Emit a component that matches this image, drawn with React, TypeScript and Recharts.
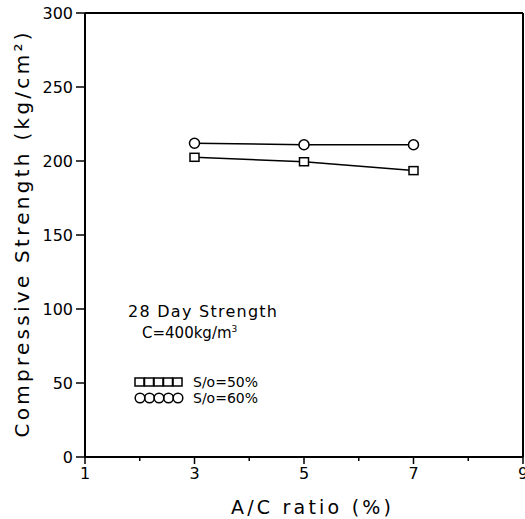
import { LineChart, Line, XAxis, YAxis, ReferenceLine } from 'recharts';

const ratios = [3, 5, 7];
const so50 = [202.5, 199.5, 193.5];
const so60 = [212, 211, 211];
const xTicks = [1, 2, 3, 4, 5, 6, 7, 8, 9];
const yTicks = [0, 50, 100, 150, 200, 250, 300];

const data = ratios.map((r, i) => ({ ratio: r, so50: so50[i], so60: so60[i] }));

const FONT = 'DejaVu Sans, sans-serif';

function XTick({ x, y, payload }: any) {
  const major = payload.value % 2 === 1;
  return (
    <g>
      <line x1={x} x2={x} y1={y} y2={y + (major ? 7 : 4)} stroke="#000" strokeWidth={1.5} />
      {major && (
        <text x={x} y={y + 22} textAnchor="middle" fontSize={16} fontFamily={FONT} fill="#000">
          {payload.value}
        </text>
      )}
    </g>
  );
}

function YTick({ x, y, payload }: any) {
  return (
    <g>
      <line x1={x - 9} x2={x} y1={y} y2={y} stroke="#000" strokeWidth={1.5} />
      <text x={x - 12} y={y + 6} textAnchor="end" fontSize={16} fontFamily={FONT} fill="#000">
        {payload.value}
      </text>
    </g>
  );
}

function YTitle({ viewBox }: any) {
  const cx = viewBox.x + viewBox.width / 2 - 21;
  const cy = viewBox.y + viewBox.height / 2;
  return (
    <text
      x={cx}
      y={cy}
      transform={`rotate(-90 ${cx} ${cy})`}
      textAnchor="middle"
      dominantBaseline="central"
      fontSize={20}
      fontFamily={FONT}
      fill="#000"
      textLength={405}
      lengthAdjust="spacing"
    >
      Compressive Strength (kg/cm²)
    </text>
  );
}

function XTitle({ viewBox }: any) {
  const cx = viewBox.x + viewBox.width / 2 + 7;
  const by = viewBox.y + viewBox.height - 5;
  return (
    <text
      x={cx}
      y={by}
      textAnchor="middle"
      fontSize={19}
      fontFamily={FONT}
      fill="#000"
      textLength={160}
      lengthAdjust="spacing"
    >
      A/C ratio (%)
    </text>
  );
}

function SquareDot({ cx, cy }: any) {
  return <rect x={cx - 4.5} y={cy - 4} width={9} height={8} fill="#fff" stroke="#000" strokeWidth={1.5} />;
}

function CircleDot({ cx, cy }: any) {
  return <circle cx={cx} cy={cy} r={5} fill="#fff" stroke="#000" strokeWidth={1.5} />;
}

function Notes() {
  const steps = [0, 1, 2, 3, 4];
  return (
    <svg width={525} height={519} style={{ position: 'absolute', left: 0, top: 0, pointerEvents: 'none' }}>
      <g fontFamily={FONT} fontSize={14} fill="#000">
        <text x={128} y={317} fontSize={16} textLength={149} lengthAdjust="spacing">28 Day Strength</text>
        <text x={142} y={338} fontSize={15}>
          C=400kg/m<tspan dy={-6} fontSize={9}>3</tspan>
        </text>
        {steps.map((s) => (
          <rect key={'s' + s} x={135 + s * 9.5} y={378} width={9} height={8} fill="none" stroke="#000" strokeWidth={1.5} />
        ))}
        <text x={193} y={387}>S/o=50%</text>
        {steps.map((s) => (
          <circle key={'c' + s} cx={140 + s * 9.5} cy={398} r={4.8} fill="none" stroke="#000" strokeWidth={1.5} />
        ))}
        <text x={193} y={403}>S/o=60%</text>
      </g>
    </svg>
  );
}

export default function App() {
  return (
    <div style={{ position: 'absolute', left: 0, top: 0, width: 525, height: 519, background: '#fff' }}>
      <LineChart width={525} height={519} data={data} margin={{ top: 13, right: 2, left: 0, bottom: 0 }}>
        <XAxis
          dataKey="ratio"
          type="number"
          domain={[1, 9]}
          ticks={xTicks}
          interval={0}
          height={62}
          tickSize={0}
          tickMargin={0}
          tick={<XTick />}
          axisLine={{ stroke: '#000', strokeWidth: 2 }}
          label={<XTitle />}
        />
        <YAxis
          type="number"
          domain={[0, 300]}
          ticks={yTicks}
          interval={0}
          width={85}
          tickSize={0}
          tickMargin={0}
          tick={<YTick />}
          axisLine={{ stroke: '#000', strokeWidth: 2 }}
          label={<YTitle />}
        />
        <ReferenceLine y={300} stroke="#000" strokeWidth={2} />
        <ReferenceLine x={9} stroke="#000" strokeWidth={2} />
        <Line
          dataKey="so50"
          stroke="#000"
          strokeWidth={1.5}
          dot={<SquareDot />}
          activeDot={false}
          isAnimationActive={false}
        />
        <Line
          dataKey="so60"
          stroke="#000"
          strokeWidth={1.5}
          dot={<CircleDot />}
          activeDot={false}
          isAnimationActive={false}
        />
      </LineChart>
      <Notes />
    </div>
  );
}
